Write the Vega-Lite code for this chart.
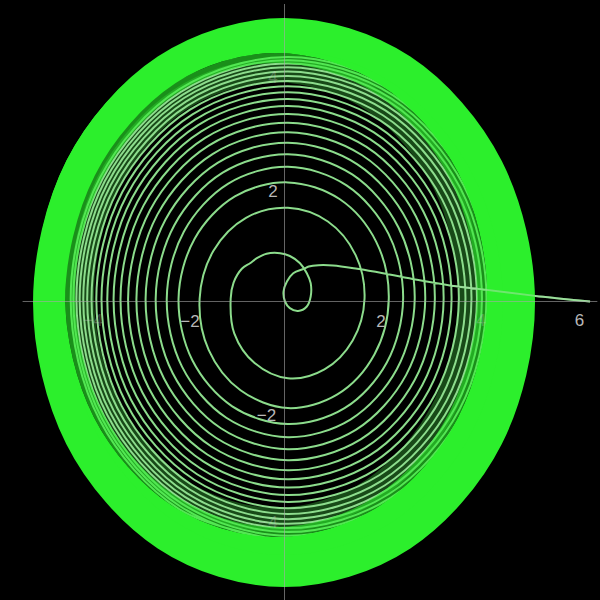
{
  "$schema": "https://vega.github.io/schema/vega-lite/v6.json",
  "description": "Phase portrait: trajectory spiralling out from a small loop near the origin onto a limit cycle",
  "width": 600,
  "height": 600,
  "autosize": {"type": "none"},
  "padding": 0,
  "background": "#000000",
  "config": {"view": {"stroke": null}},
  "datasets": {
    "outer": [
      {"i": 0, "x": 4.835, "y": -0.018}, {"i": 1, "x": 4.186, "y": 2.401}, {"i": 2, "x": 2.4125, "y": 4.172},
      {"i": 3, "x": -0.01, "y": 4.82}, {"i": 4, "x": -2.4325, "y": 4.172}, {"i": 5, "x": -4.206, "y": 2.401},
      {"i": 6, "x": -4.855, "y": -0.018}, {"i": 7, "x": -4.206, "y": -2.437}, {"i": 8, "x": -2.4325, "y": -4.208},
      {"i": 9, "x": -0.01, "y": -4.856}, {"i": 10, "x": 2.4125, "y": -4.208}, {"i": 11, "x": 4.186, "y": -2.437}
    ],
    "inner": [
      {"i": 0, "x": 4.485, "y": 0.117}, {"i": 1, "x": 3.861, "y": 2.432}, {"i": 2, "x": 2.155, "y": 4.127},
      {"i": 3, "x": -0.175, "y": 4.747}, {"i": 4, "x": -2.505, "y": 4.127}, {"i": 5, "x": -4.211, "y": 2.432},
      {"i": 6, "x": -4.835, "y": 0.117}, {"i": 7, "x": -4.211, "y": -2.198}, {"i": 8, "x": -2.505, "y": -3.893},
      {"i": 9, "x": -0.175, "y": -4.513}, {"i": 10, "x": 2.155, "y": -3.893}, {"i": 11, "x": 3.861, "y": -2.198}
    ],
    "edge": [
      {"i": 0, "x": 4.072, "y": 0.117}, {"i": 1, "x": 3.503, "y": 2.252}, {"i": 2, "x": 1.9485, "y": 3.815},
      {"i": 3, "x": -0.175, "y": 4.387}, {"i": 4, "x": -2.2985, "y": 3.815}, {"i": 5, "x": -3.853, "y": 2.252},
      {"i": 6, "x": -4.422, "y": 0.117}, {"i": 7, "x": -3.853, "y": -2.018}, {"i": 8, "x": -2.2985, "y": -3.581},
      {"i": 9, "x": -0.175, "y": -4.153}, {"i": 10, "x": 1.9485, "y": -3.581}, {"i": 11, "x": 3.503, "y": -2.018}
    ],
    "glow": [
      {"i": 0, "x": 3.825, "y": 0.117}, {"i": 1, "x": 3.289, "y": 2.142}, {"i": 2, "x": 1.825, "y": 3.624},
      {"i": 3, "x": -0.175, "y": 4.167}, {"i": 4, "x": -2.175, "y": 3.624}, {"i": 5, "x": -3.639, "y": 2.142},
      {"i": 6, "x": -4.175, "y": 0.117}, {"i": 7, "x": -3.639, "y": -1.908}, {"i": 8, "x": -2.175, "y": -3.390},
      {"i": 9, "x": -0.175, "y": -3.933}, {"i": 10, "x": 1.825, "y": -3.390}, {"i": 11, "x": 3.289, "y": -1.908}
    ],
    "axes": [
      {"x": -5.4, "x2": 6.45, "y": 0, "y2": 0},
      {"x": 0, "x2": 0, "y": -5.4, "y2": 5.36}
    ],
    "labels": [
      {"t": "−2", "x": -1.95, "y": -0.37},
      {"t": "2", "x": 1.99, "y": -0.37},
      {"t": "6", "x": 6.08, "y": -0.36},
      {"t": "2", "x": -0.24, "y": 1.97},
      {"t": "−2", "x": -0.37, "y": -2.06}
    ],
    "faint": [
      {"t": "−4", "x": -3.95, "y": -0.35},
      {"t": "4", "x": 4.05, "y": -0.35},
      {"t": "4", "x": -0.24, "y": 4.03},
      {"t": "−4", "x": -0.34, "y": -3.99}
    ],
    "path": [
      {"i": 0, "x": 6.30, "y": 0.00}, {"i": 1, "x": 5.60, "y": 0.06}, {"i": 2, "x": 5.17, "y": 0.10},
      {"i": 3, "x": 4.44, "y": 0.18}, {"i": 4, "x": 3.41, "y": 0.29}, {"i": 5, "x": 2.73, "y": 0.39},
      {"i": 6, "x": 2.03, "y": 0.51}, {"i": 7, "x": 1.50, "y": 0.59}, {"i": 8, "x": 1.00, "y": 0.65},
      {"i": 9, "x": 0.70, "y": 0.655}, {"i": 10, "x": 0.50, "y": 0.63}, {"i": 11, "x": 0.40, "y": 0.59},
      {"i": 12, "x": 0.18, "y": 0.51}, {"i": 13, "x": 0.05, "y": 0.36}, {"i": 14, "x": -0.02, "y": 0.18},
      {"i": 15, "x": 0.01, "y": 0.00}, {"i": 16, "x": 0.11, "y": -0.12}, {"i": 17, "x": 0.28, "y": -0.17},
      {"i": 18, "x": 0.46, "y": -0.09}, {"i": 19, "x": 0.54, "y": 0.09}, {"i": 20, "x": 0.54, "y": 0.33},
      {"i": 21, "x": 0.46, "y": 0.51}, {"i": 22, "x": 0.32, "y": 0.69}, {"i": 23, "x": 0.11, "y": 0.82},
      {"i": 24, "x": -0.09, "y": 0.87}, {"i": 25, "x": -0.37, "y": 0.86}, {"i": 26, "x": -0.57, "y": 0.78},
      {"i": 27, "x": -0.71, "y": 0.69}, {"i": 28, "x": -0.88, "y": 0.59}, {"i": 29, "x": -1.05, "y": 0.34},
      {"i": 30, "x": -1.11, "y": 0.05}, {"i": 31, "x": -1.036, "y": -0.573}, {"i": 32, "x": -0.617, "y": -1.109},
      {"i": 33, "x": 0.07, "y": -1.383}, {"i": 34, "x": 0.824, "y": -1.223}, {"i": 35, "x": 1.406, "y": -0.702},
      {"i": 36, "x": 1.65, "y": 0.05}, {"i": 37, "x": 1.467, "y": 0.836}, {"i": 38, "x": 0.894, "y": 1.441},
      {"i": 39, "x": 0.07, "y": 1.688}, {"i": 40, "x": -0.794, "y": 1.508}, {"i": 41, "x": -1.465, "y": 0.914},
      {"i": 42, "x": -1.75, "y": 0.05}, {"i": 43, "x": -1.564, "y": -0.87}, {"i": 44, "x": -0.907, "y": -1.599},
      {"i": 45, "x": 0.07, "y": -1.92}, {"i": 46, "x": 1.09, "y": -1.673}, {"i": 47, "x": 1.854, "y": -0.954},
      {"i": 48, "x": 2.15, "y": 0.05}, {"i": 49, "x": 1.891, "y": 1.075}, {"i": 50, "x": 1.134, "y": 1.846},
      {"i": 51, "x": 0.07, "y": 2.146}, {"i": 52, "x": -1.023, "y": 1.895}, {"i": 53, "x": -1.853, "y": 1.132},
      {"i": 54, "x": -2.185, "y": 0.05}, {"i": 55, "x": -1.9, "y": -1.059}, {"i": 56, "x": -1.078, "y": -1.888},

      {"i": 57, "x": 0.07, "y": -2.207}, {"i": 58, "x": 1.238, "y": -1.922}, {"i": 59, "x": 2.110, "y": -1.099},
      {"i": 60, "x": 2.446, "y": 0.05}, {"i": 61, "x": 2.145, "y": 1.218}, {"i": 62, "x": 1.279, "y": 2.091},
      {"i": 63, "x": 0.07, "y": 2.426}, {"i": 64, "x": -1.159, "y": 2.125}, {"i": 65, "x": -2.076, "y": 1.258},
      {"i": 66, "x": -2.428, "y": 0.05}, {"i": 67, "x": -2.111, "y": -1.178}, {"i": 68, "x": -1.200, "y": -2.094},

      {"i": 69, "x": 0.07, "y": -2.445}, {"i": 70, "x": 1.359, "y": -2.127}, {"i": 71, "x": 2.318, "y": -1.216},
      {"i": 72, "x": 2.685, "y": 0.05}, {"i": 73, "x": 2.350, "y": 1.334}, {"i": 74, "x": 1.396, "y": 2.289},
      {"i": 75, "x": 0.07, "y": 2.654}, {"i": 76, "x": -1.275, "y": 2.321}, {"i": 77, "x": -2.275, "y": 1.370},
      {"i": 78, "x": -2.656, "y": 0.05}, {"i": 79, "x": -2.307, "y": -1.288}, {"i": 80, "x": -1.312, "y": -2.283},

      {"i": 81, "x": 0.07, "y": -2.662}, {"i": 82, "x": 1.469, "y": -2.313}, {"i": 83, "x": 2.508, "y": -1.322},
      {"i": 84, "x": 2.902, "y": 0.05}, {"i": 85, "x": 2.537, "y": 1.439}, {"i": 86, "x": 1.503, "y": 2.470},
      {"i": 87, "x": 0.07, "y": 2.861}, {"i": 88, "x": -1.380, "y": 2.499}, {"i": 89, "x": -2.456, "y": 1.472},
      {"i": 90, "x": -2.864, "y": 0.05}, {"i": 91, "x": -2.485, "y": -1.388}, {"i": 92, "x": -1.414, "y": -2.455},

      {"i": 93, "x": 0.07, "y": -2.859}, {"i": 94, "x": 1.570, "y": -2.483}, {"i": 95, "x": 2.681, "y": -1.420},
      {"i": 96, "x": 3.100, "y": 0.05}, {"i": 97, "x": 2.708, "y": 1.535}, {"i": 98, "x": 1.601, "y": 2.635},
      {"i": 99, "x": 0.07, "y": 3.050}, {"i": 100, "x": -1.476, "y": 2.661}, {"i": 101, "x": -2.621, "y": 1.565},
      {"i": 102, "x": -3.053, "y": 0.05}, {"i": 103, "x": -2.648, "y": -1.480}, {"i": 104, "x": -1.507, "y": -2.612},

      {"i": 105, "x": 0.07, "y": -3.040}, {"i": 106, "x": 1.662, "y": -2.638}, {"i": 107, "x": 2.839, "y": -1.509},
      {"i": 108, "x": 3.281, "y": 0.05}, {"i": 109, "x": 2.863, "y": 1.622}, {"i": 110, "x": 1.690, "y": 2.785},
      {"i": 111, "x": 0.07, "y": 3.222}, {"i": 112, "x": -1.564, "y": 2.809}, {"i": 113, "x": -2.771, "y": 1.650},
      {"i": 114, "x": -3.225, "y": 0.05}, {"i": 115, "x": -2.796, "y": -1.563}, {"i": 116, "x": -1.592, "y": -2.756},

      {"i": 117, "x": 0.07, "y": -3.204}, {"i": 118, "x": 1.745, "y": -2.778}, {"i": 119, "x": 2.982, "y": -1.589},
      {"i": 120, "x": 3.445, "y": 0.05}, {"i": 121, "x": 3.004, "y": 1.702}, {"i": 122, "x": 1.770, "y": 2.921},
      {"i": 123, "x": 0.07, "y": 3.378}, {"i": 124, "x": -1.643, "y": 2.943}, {"i": 125, "x": -2.908, "y": 1.727},
      {"i": 126, "x": -3.381, "y": 0.05}, {"i": 127, "x": -2.930, "y": -1.639}, {"i": 128, "x": -1.669, "y": -2.886},

      {"i": 129, "x": 0.07, "y": -3.353}, {"i": 130, "x": 1.821, "y": -2.906}, {"i": 131, "x": 3.112, "y": -1.663},
      {"i": 132, "x": 3.595, "y": 0.05}, {"i": 133, "x": 3.132, "y": 1.774}, {"i": 134, "x": 1.844, "y": 3.046},
      {"i": 135, "x": 0.07, "y": 3.520}, {"i": 136, "x": -1.716, "y": 3.065}, {"i": 137, "x": -3.033, "y": 1.797},
      {"i": 138, "x": -3.524, "y": 0.05}, {"i": 139, "x": -3.053, "y": -1.708}, {"i": 140, "x": -1.739, "y": -3.004},

      {"i": 141, "x": 0.07, "y": -3.488}, {"i": 142, "x": 1.890, "y": -3.024}, {"i": 143, "x": 3.231, "y": -1.729},
      {"i": 144, "x": 3.731, "y": 0.05}, {"i": 145, "x": 3.249, "y": 1.840}, {"i": 146, "x": 1.911, "y": 3.159},
      {"i": 147, "x": 0.07, "y": 3.650}, {"i": 148, "x": -1.782, "y": 3.177}, {"i": 149, "x": -3.146, "y": 1.861},
      {"i": 150, "x": -3.654, "y": 0.05}, {"i": 151, "x": -3.165, "y": -1.771}, {"i": 152, "x": -1.803, "y": -3.112},

      {"i": 153, "x": 0.07, "y": -3.612}, {"i": 154, "x": 1.953, "y": -3.130}, {"i": 155, "x": 3.339, "y": -1.790},
      {"i": 156, "x": 3.855, "y": 0.05}, {"i": 157, "x": 3.356, "y": 1.900}, {"i": 158, "x": 1.972, "y": 3.262},
      {"i": 159, "x": 0.07, "y": 3.769}, {"i": 160, "x": -1.842, "y": 3.278}, {"i": 161, "x": -3.249, "y": 1.919},
      {"i": 162, "x": -3.773, "y": 0.05}, {"i": 163, "x": -3.266, "y": -1.828}, {"i": 164, "x": -1.861, "y": -3.211},

      {"i": 165, "x": 0.07, "y": -3.725}, {"i": 166, "x": 2.010, "y": -3.226}, {"i": 167, "x": 3.438, "y": -1.846},
      {"i": 168, "x": 3.968, "y": 0.05}, {"i": 169, "x": 3.453, "y": 1.955}, {"i": 170, "x": 2.028, "y": 3.356},
      {"i": 171, "x": 0.07, "y": 3.876}, {"i": 172, "x": -1.897, "y": 3.371}, {"i": 173, "x": -3.344, "y": 1.972},
      {"i": 174, "x": -3.880, "y": 0.05}, {"i": 175, "x": -3.359, "y": -1.880}, {"i": 176, "x": -1.914, "y": -3.301},

      {"i": 177, "x": 0.07, "y": -3.828}, {"i": 178, "x": 2.063, "y": -3.315}, {"i": 179, "x": 3.528, "y": -1.897},
      {"i": 180, "x": 4.071, "y": 0.05}, {"i": 181, "x": 3.542, "y": 2.004}, {"i": 182, "x": 2.079, "y": 3.442},
      {"i": 183, "x": 0.07, "y": 3.974}, {"i": 184, "x": -1.947, "y": 3.456}, {"i": 185, "x": -3.430, "y": 2.020},
      {"i": 186, "x": -3.979, "y": 0.05}, {"i": 187, "x": -3.443, "y": -1.928}, {"i": 188, "x": -1.963, "y": -3.383},

      {"i": 189, "x": 0.07, "y": -3.921}, {"i": 190, "x": 2.110, "y": -3.395}, {"i": 191, "x": 3.609, "y": -1.942},
      {"i": 192, "x": 4.164, "y": 0.05}, {"i": 193, "x": 3.622, "y": 2.050}, {"i": 194, "x": 2.125, "y": 3.520},
      {"i": 195, "x": 0.07, "y": 4.063}, {"i": 196, "x": -1.992, "y": 3.532}, {"i": 197, "x": -3.507, "y": 2.064},
      {"i": 198, "x": -4.068, "y": 0.05}, {"i": 199, "x": -3.520, "y": -1.971}, {"i": 200, "x": -2.007, "y": -3.457},

      {"i": 201, "x": 0.07, "y": -4.006}, {"i": 202, "x": 2.153, "y": -3.468}, {"i": 203, "x": 3.684, "y": -1.984},
      {"i": 204, "x": 4.250, "y": 0.05}, {"i": 205, "x": 3.695, "y": 2.091}, {"i": 206, "x": 2.167, "y": 3.591},
      {"i": 207, "x": 0.07, "y": 4.145}, {"i": 208, "x": -2.033, "y": 3.602}, {"i": 209, "x": -3.579, "y": 2.104},
      {"i": 210, "x": -4.149, "y": 0.05}, {"i": 211, "x": -3.590, "y": -2.010}, {"i": 212, "x": -2.047, "y": -3.524},

      {"i": 213, "x": 0.07, "y": -4.083}, {"i": 214, "x": 2.193, "y": -3.535}, {"i": 215, "x": 3.751, "y": -2.022},
      {"i": 216, "x": 4.327, "y": 0.05}, {"i": 217, "x": 3.762, "y": 2.128}, {"i": 218, "x": 2.205, "y": 3.655},
      {"i": 219, "x": 0.07, "y": 4.219}, {"i": 220, "x": -2.071, "y": 3.666}, {"i": 221, "x": -3.643, "y": 2.140},
      {"i": 222, "x": -4.224, "y": 0.05}, {"i": 223, "x": -3.654, "y": -2.046}, {"i": 224, "x": -2.083, "y": -3.586},

      {"i": 225, "x": 0.07, "y": -4.154}, {"i": 226, "x": 2.229, "y": -3.595}, {"i": 227, "x": 3.814, "y": -2.057},
      {"i": 228, "x": 4.398, "y": 0.05}, {"i": 229, "x": 3.823, "y": 2.163}, {"i": 230, "x": 2.240, "y": 3.714},
      {"i": 231, "x": 0.07, "y": 4.286}, {"i": 232, "x": -2.105, "y": 3.723}, {"i": 233, "x": -3.702, "y": 2.174},
      {"i": 234, "x": -4.291, "y": 0.05}, {"i": 235, "x": -3.712, "y": -2.079}, {"i": 236, "x": -2.116, "y": -3.642},

      {"i": 237, "x": 0.07, "y": -4.219}, {"i": 238, "x": 2.262, "y": -3.651}, {"i": 239, "x": 3.870, "y": -2.089},
      {"i": 240, "x": 4.463, "y": 0.05}, {"i": 241, "x": 3.879, "y": 2.194}, {"i": 242, "x": 2.272, "y": 3.768},
      {"i": 243, "x": 0.07, "y": 4.348}, {"i": 244, "x": -2.137, "y": 3.776}, {"i": 245, "x": -3.756, "y": 2.204},
      {"i": 246, "x": -4.353, "y": 0.05}, {"i": 247, "x": -3.765, "y": -2.109}, {"i": 248, "x": -2.147, "y": -3.693},

      {"i": 249, "x": 0.07, "y": -4.277}, {"i": 250, "x": 2.291, "y": -3.701}, {"i": 251, "x": 3.921, "y": -2.118},
      {"i": 252, "x": 4.521, "y": 0.05}, {"i": 253, "x": 3.929, "y": 2.222}, {"i": 254, "x": 2.300, "y": 3.816},
      {"i": 255, "x": 0.07, "y": 4.403}, {"i": 256, "x": -2.165, "y": 3.825}, {"i": 257, "x": -3.805, "y": 2.231},
      {"i": 258, "x": -4.409, "y": 0.05}, {"i": 259, "x": -3.812, "y": -2.136}, {"i": 260, "x": -2.174, "y": -3.740},
      {"i": 261, "x": 0.07, "y": -4.330}
    ]
  },
  "encoding": {
    "x": {"field": "x", "type": "quantitative", "scale": {"domain": [-5.866, 6.505], "nice": false, "zero": false}, "axis": null},
    "y": {"field": "y", "type": "quantitative", "scale": {"domain": [-5.378, 5.432], "nice": false, "zero": false}, "axis": null}
  },
  "layer": [
    {
      "data": {"name": "glow"},
      "mark": {"type": "line", "interpolate": "cardinal-closed", "tension": 0, "strokeWidth": 24, "color": "#184a18"},
      "encoding": {"order": {"field": "i"}}
    },
    {
      "data": {"name": "path"},
      "mark": {"type": "line", "interpolate": "catmull-rom", "strokeWidth": 2, "color": "#8cdc8c"},
      "encoding": {"order": {"field": "i"}}
    },
    {
      "data": {"name": "edge"},
      "mark": {"type": "line", "interpolate": "cardinal-closed", "tension": 0, "strokeWidth": 10, "color": "#2cef2c", "opacity": 0.6},
      "encoding": {"order": {"field": "i"}}
    },
    {
      "data": {"name": "inner"},
      "mark": {"type": "line", "interpolate": "cardinal-closed", "tension": 0, "strokeWidth": 30, "color": "#2cef2c"},
      "encoding": {"order": {"field": "i"}}
    },
    {
      "data": {"name": "outer"},
      "mark": {"type": "line", "interpolate": "cardinal-closed", "tension": 0, "strokeWidth": 32, "color": "#2cef2c"},
      "encoding": {"order": {"field": "i"}}
    },
    {
      "data": {"name": "path"},
      "transform": [{"filter": "datum.i <= 4"}],
      "mark": {"type": "line", "interpolate": "catmull-rom", "strokeWidth": 1.8, "color": "#a8e0a8", "opacity": 0.55},
      "encoding": {"order": {"field": "i"}}
    },
    {
      "data": {"name": "axes"},
      "mark": {"type": "rule", "color": "#a8a8a8", "strokeWidth": 1, "opacity": 0.6},
      "encoding": {"x2": {"field": "x2"}, "y2": {"field": "y2"}}
    },
    {
      "data": {"name": "labels"},
      "mark": {"type": "text", "font": "Liberation Sans", "fontSize": 17, "color": "#b8b8b8", "align": "center", "baseline": "middle"},
      "encoding": {"text": {"field": "t"}}
    },
    {
      "data": {"name": "faint"},
      "mark": {"type": "text", "font": "Liberation Sans", "fontSize": 17, "color": "#c8c8c8", "opacity": 0.3, "align": "center", "baseline": "middle"},
      "encoding": {"text": {"field": "t"}}
    }
  ]
}
